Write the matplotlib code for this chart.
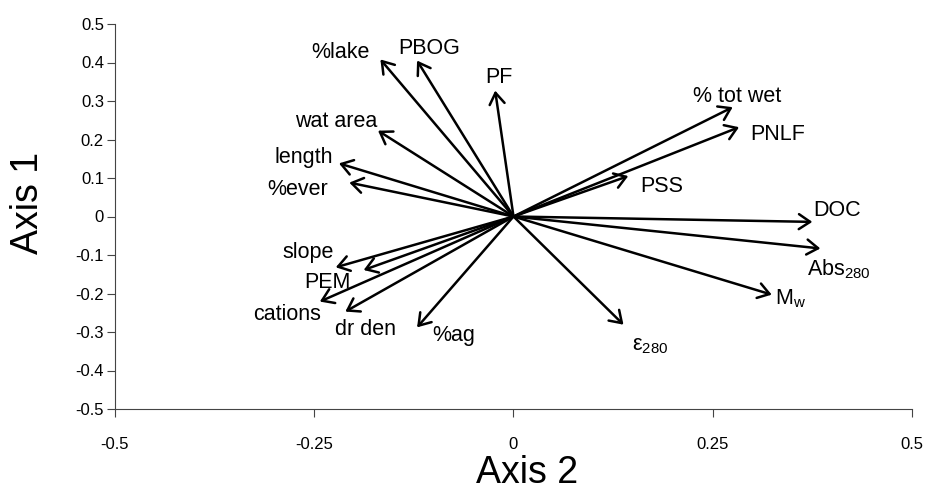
import matplotlib
matplotlib.use("Agg")
import matplotlib.pyplot as plt

plt.rcParams['font.family'] = ['Liberation Sans', 'DejaVu Sans']
plt.rcParams['mathtext.default'] = 'regular'

# Variables and their loadings (Axis 2 = x, Axis 1 = y)
labels = ['%lake', 'PBOG', 'PF', 'wat area', 'length', '%ever', 'slope', 'PEM',
          'cations', 'dr den', '%ag', '% tot wet', 'PNLF', 'PSS', 'DOC',
          'Abs$_{280}$', 'M$_{w}$', 'ε$_{280}$']
axis2 = [-0.167, -0.121, -0.023, -0.170, -0.219, -0.206, -0.223, -0.188,
         -0.243, -0.211, -0.121, 0.275, 0.283, 0.144, 0.375, 0.385, 0.324, 0.138]
axis1 = [0.408, 0.405, 0.327, 0.223, 0.138, 0.088, -0.132, -0.139,
         -0.221, -0.247, -0.288, 0.284, 0.232, 0.105, -0.014, -0.083, -0.203, -0.281]

# label offsets in pixels (left edge, baseline) relative to arrow tip
label_dx = [-69, -19, -10, -83, -64, -82, -53, -59, -67, -10, 15, -40, 11, 12, 1, -13, 3, 9]
label_dy = [1, 7, 8, 4, 0, -12, 9, -18, -18, -23, -14, 5, -13, -16, 6, -27, -10, -26]

xticks = [-0.5, -0.25, 0, 0.25, 0.5]
xticklabels = ['-0.5', '-0.25', '0', '0.25', '0.5']
yticks = [-0.5, -0.4, -0.3, -0.2, -0.1, 0, 0.1, 0.2, 0.3, 0.4, 0.5]
yticklabels = ['-0.5', '-0.4', '-0.3', '-0.2', '-0.1', '0', '0.1', '0.2', '0.3', '0.4', '0.5']

fig = plt.figure(figsize=(9.28, 4.93), dpi=100)
ax = fig.add_axes([115 / 928, 1 - 409 / 493, 797 / 928, 385 / 493])
ax.set_xlim(-0.5, 0.5)
ax.set_ylim(-0.5, 0.5)

for lab, x, y, dx, dy in zip(labels, axis2, axis1, label_dx, label_dy):
    ax.annotate('', xy=(x, y), xytext=(0, 0),
                arrowprops=dict(arrowstyle='->,head_length=0.45,head_width=0.3',
                                lw=1.8, color='black', shrinkA=0, shrinkB=0,
                                mutation_scale=18))
    ax.annotate(lab, xy=(x, y), xytext=(dx, dy), textcoords='offset pixels',
                ha='left', va='baseline', fontsize=15.5, color='black')

for side in ['top', 'right']:
    ax.spines[side].set_visible(False)
for side in ['left', 'bottom']:
    ax.spines[side].set_linewidth(0.8)
    ax.spines[side].set_color('#444444')

ax.set_xticks(xticks)
ax.set_xticklabels(xticklabels)
ax.set_yticks(yticks)
ax.set_yticklabels(yticklabels)
ax.tick_params(axis='x', direction='out', length=6, width=0.8, color='#444444',
               labelsize=12, pad=14)
ax.tick_params(axis='y', direction='out', length=6, width=0.8, color='#444444',
               labelsize=12, pad=2)

ax.set_xlabel('Axis 2', fontsize=27)
ax.set_ylabel('Axis 1', fontsize=27)
ax.xaxis.set_label_coords((527 - 115) / 797, (409 - 473) / 385)
ax.yaxis.set_label_coords((28 - 115) / 797, (409 - 203) / 385)
ax.xaxis.label.set_va('center')
ax.yaxis.label.set_va('center')

fig.savefig('out.png', dpi=100)
